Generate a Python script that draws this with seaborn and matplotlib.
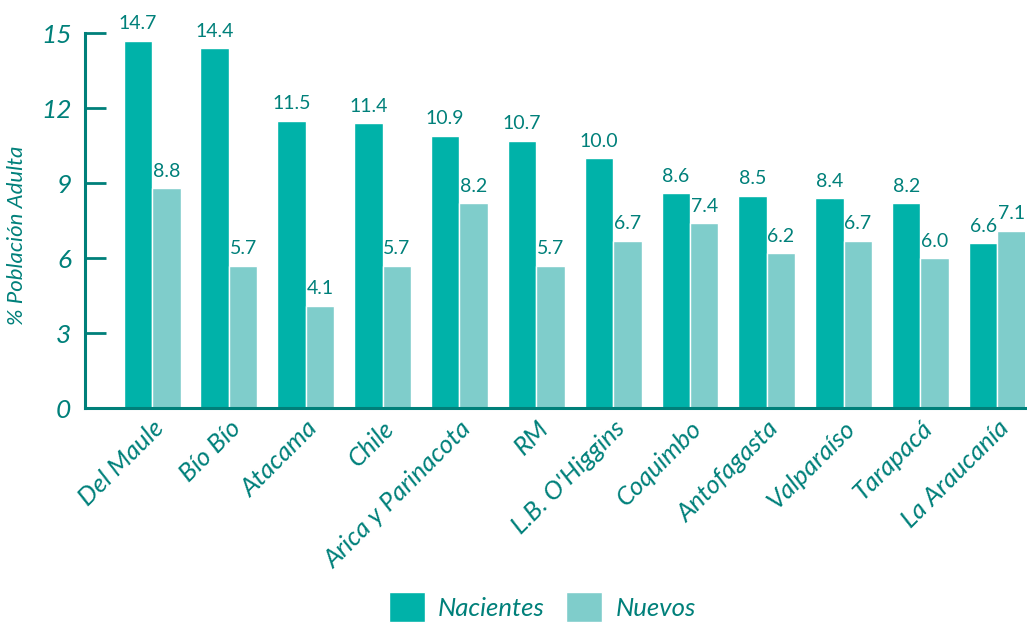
import matplotlib
matplotlib.use("Agg")
import matplotlib.pyplot as plt
import seaborn as sns
import pandas as pd

regiones = ["Del Maule", "Bío Bío", "Atacama", "Chile", "Arica y Parinacota", "RM",
            "L.B. O'Higgins", "Coquimbo", "Antofagasta", "Valparaíso", "Tarapacá", "La Araucanía"]
nacientes = [14.7, 14.4, 11.5, 11.4, 10.9, 10.7, 10.0, 8.6, 8.5, 8.4, 8.2, 6.6]
nuevos = [8.8, 5.7, 4.1, 5.7, 8.2, 5.7, 6.7, 7.4, 6.2, 6.7, 6.0, 7.1]
series = ["Nacientes", "Nuevos"]
y_ticks = [0, 3, 6, 9, 12, 15]

df = pd.DataFrame({
    "Región": regiones * 2,
    "Serie": [series[0]] * len(regiones) + [series[1]] * len(regiones),
    "Valor": nacientes + nuevos,
})

sns.set_theme(style="white")
plt.rcParams["font.family"] = ["Lato", "DejaVu Sans"]

TEXT = "#00807a"
palette = {"Nacientes": "#00b2a9", "Nuevos": "#7fcdcb"}

fig = plt.figure(figsize=(10.27, 6.26), dpi=100)
ax = fig.add_axes([0.083, 0.348, 0.915, 0.599])

sns.barplot(data=df, x="Región", y="Valor", hue="Serie", order=regiones,
            hue_order=series, palette=palette, width=0.74, saturation=1,
            edgecolor="white", linewidth=1, ax=ax)

for cont in ax.containers:
    ax.bar_label(cont, fmt="%.1f", padding=6, fontsize=14, color=TEXT)

ax.set_ylim(0, 15)
ax.set_xlim(-0.87, 11.36)
ax.set_yticks(y_ticks)
ax.set_yticklabels([str(v) for v in y_ticks], fontsize=19, style="italic", color=TEXT)
ax.tick_params(axis="y", direction="in", length=15, width=2, color=TEXT, pad=10, left=True)
ax.tick_params(axis="x", length=0, pad=6)
ax.set_xticks(range(len(regiones)))
ax.set_xticklabels(regiones, rotation=45, ha="right", rotation_mode="anchor",
                   fontsize=18.5, style="italic", color=TEXT)
ax.set_xlabel("")
ax.set_ylabel("% Población Adulta", fontsize=16, style="italic", color=TEXT)
ax.yaxis.set_label_coords(-0.062, 0.46)

for side in ("top", "right"):
    ax.spines[side].set_visible(False)
for side in ("left", "bottom"):
    ax.spines[side].set_color(TEXT)
    ax.spines[side].set_linewidth(2.2)

handles, labels = ax.get_legend_handles_labels()
ax.legend_.remove()
leg = fig.legend(handles, labels, loc="center", bbox_to_anchor=(0.528, 0.03),
                 ncol=2, frameon=False, handlelength=1.4, handleheight=1.4,
                 columnspacing=0.85, handletextpad=0.5,
                 prop={"size": 18.5, "style": "italic"})
for t in leg.get_texts():
    t.set_color(TEXT)

fig.savefig("out.png", dpi=100)
